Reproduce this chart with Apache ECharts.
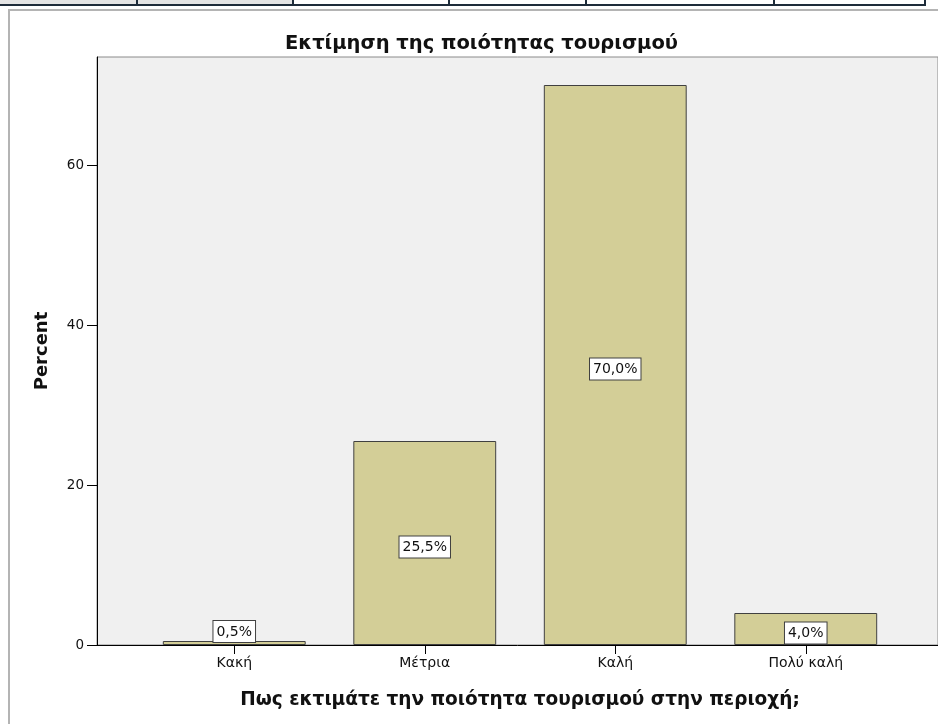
<!DOCTYPE html>
<html>
<head>
<meta charset="utf-8">
<script src="https://cdn.jsdelivr.net/npm/echarts@6/dist/echarts.min.js"></script>
<style>
html,body{margin:0;padding:0;background:#fff;}
#c{width:938px;height:724px;}
</style>
</head>
<body>
<div id="c"></div>
<script>
var titleText = 'Εκτίμηση της ποιότητας τουρισμού';
var categories = ['Κακή', 'Μέτρια', 'Καλή', 'Πολύ καλή'];
var percentValues = [0.5, 25.5, 70.0, 4.0];
var percentLabels = ['0,5%', '25,5%', '70,0%', '4,0%'];
var yTickValues = [0, 20, 40, 60];
var xAxisTitle = 'Πως εκτιμάτε την ποιότητα τουρισμού στην περιοχή;';
var yAxisTitle = 'Percent';

var FONT = 'DejaVu Sans';
var chart = echarts.init(document.getElementById('c'), null, {renderer: 'canvas'});

var barData = percentValues.map(function (v, i) {
  var item = {value: v};
  if (i === 0) {
    item.label = {position: 'top', distance: 0, offset: [0, 1]};
  }
  return item;
});

var tableLine = '#1e2c3a';
var graphics = [
  {type: 'rect', shape: {x: 0, y: 0, width: 293, height: 5}, style: {fill: '#e4e4e4'}, silent: true},
  {type: 'line', shape: {x1: 0, y1: 5, x2: 926, y2: 5}, style: {stroke: tableLine, lineWidth: 2}, silent: true}
];
[137, 293, 449, 586, 774, 925].forEach(function (x) {
  graphics.push({type: 'line', shape: {x1: x, y1: 0, x2: x, y2: 5}, style: {stroke: tableLine, lineWidth: 2}, silent: true});
});
graphics.push({type: 'line', shape: {x1: 8, y1: 10, x2: 938, y2: 10}, style: {stroke: '#b4b4b4', lineWidth: 2}, silent: true});
graphics.push({type: 'line', shape: {x1: 9, y1: 10, x2: 9, y2: 724}, style: {stroke: '#b4b4b4', lineWidth: 2}, silent: true});

chart.setOption({
  animation: false,
  backgroundColor: '#ffffff',
  textStyle: {fontFamily: FONT},
  graphic: graphics,
  title: {
    text: titleText,
    left: 280,
    top: 29,
    textStyle: {fontFamily: FONT, fontSize: 19.5, fontWeight: 'bold', color: '#111'}
  },
  grid: [
    {left: 97, top: 57, right: -3, bottom: 79, show: true, backgroundColor: '#f0f0f0', borderColor: '#8a8a8a', borderWidth: 1},
    {left: 139, top: 57, right: 37, bottom: 79}
  ],
  xAxis: [
    {gridIndex: 0, type: 'value', min: 0, max: 1, axisLine: {show: true, lineStyle: {color: '#000', width: 1}}, axisTick: {show: false}, axisLabel: {show: false}, splitLine: {show: false}},
    {
      gridIndex: 1, type: 'category', data: categories,
      axisLine: {show: false},
      axisTick: {show: true, alignWithLabel: true, length: 9, lineStyle: {color: '#000'}},
      axisLabel: {margin: 11, fontSize: 14, color: '#111', fontFamily: FONT},
      name: xAxisTitle, nameLocation: 'middle', nameGap: 46,
      nameTextStyle: {fontFamily: FONT, fontSize: 18.5, fontWeight: 'bold', color: '#111'}
    }
  ],
  yAxis: [
    {gridIndex: 0, type: 'value', min: 0, max: 1, show: false},
    {
      gridIndex: 1, type: 'value', min: 0, max: 73.5, interval: 20, offset: 42,
      axisLine: {show: true, lineStyle: {color: '#000', width: 1}},
      axisTick: {show: true, length: 10, lineStyle: {color: '#000'}, customValues: yTickValues},
      axisLabel: {margin: 13, fontSize: 13.5, color: '#111', fontFamily: FONT, customValues: yTickValues},
      splitLine: {show: false},
      name: yAxisTitle, nameLocation: 'middle', nameGap: 46,
      nameTextStyle: {fontFamily: FONT, fontSize: 18, fontWeight: 'bold', color: '#111'}
    }
  ],
  series: [{
    type: 'bar',
    xAxisIndex: 1,
    yAxisIndex: 1,
    data: barData,
    barCategoryGap: '25%',
    itemStyle: {color: '#d3ce97', borderColor: '#404040', borderWidth: 1},
    label: {
      show: true,
      position: 'inside',
      offset: [0, 4],
      formatter: function (p) { return percentLabels[p.dataIndex]; },
      fontFamily: FONT, fontSize: 14, color: '#111',
      backgroundColor: '#ffffff', borderColor: '#404040', borderWidth: 1,
      padding: [4, 3, 3, 3]
    }
  }]
});
</script>
</body>
</html>
